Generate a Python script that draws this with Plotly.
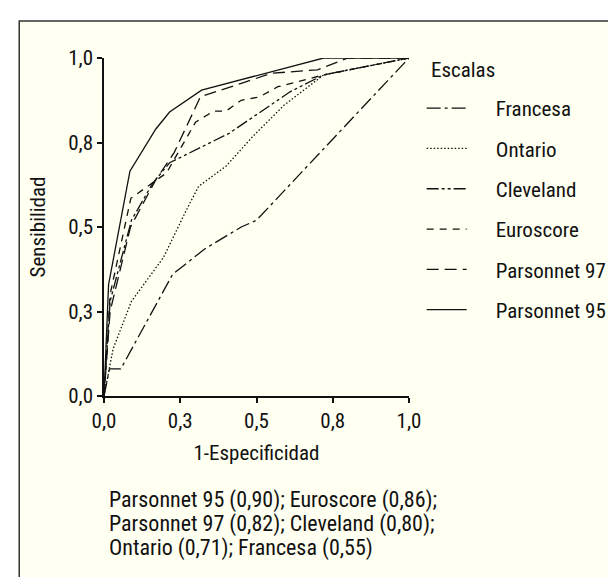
import plotly.graph_objects as go

# ---- data ----
series_names = ["Francesa", "Ontario", "Cleveland", "Euroscore", "Parsonnet 97", "Parsonnet 95"]

francesa_x = [0, 0.018, 0.055, 0.225, 0.33, 0.45, 0.50, 1.0]
francesa_y = [0, 0.08, 0.08, 0.36, 0.435, 0.50, 0.52, 1.0]

ontario_x = [0, 0.03, 0.09, 0.195, 0.27, 0.31, 0.40, 0.49, 0.59, 0.72, 1.0]
ontario_y = [0, 0.14, 0.28, 0.41, 0.55, 0.62, 0.68, 0.77, 0.86, 0.95, 1.0]

cleveland_x = [0, 0.02, 0.09, 0.16, 0.215, 0.26, 0.37, 0.41, 0.48, 0.61, 0.72, 1.0]
cleveland_y = [0, 0.28, 0.52, 0.63, 0.69, 0.71, 0.757, 0.777, 0.82, 0.90, 0.95, 1.0]

euroscore_x = [0, 0.02, 0.088, 0.205, 0.30, 0.36, 0.40, 0.45, 0.51, 0.57, 0.72, 1.0]
euroscore_y = [0, 0.30, 0.585, 0.66, 0.81, 0.843, 0.843, 0.875, 0.885, 0.915, 0.95, 1.0]

parsonnet97_x = [0, 0.02, 0.087, 0.17, 0.23, 0.30, 0.316, 0.45, 0.55, 0.70, 0.80, 1.0]
parsonnet97_y = [0, 0.25, 0.50, 0.64, 0.72, 0.855, 0.885, 0.925, 0.955, 0.965, 1.0, 1.0]

parsonnet95_x = [0, 0.015, 0.085, 0.17, 0.215, 0.32, 0.72, 1.0]
parsonnet95_y = [0, 0.33, 0.665, 0.79, 0.84, 0.905, 1.0, 1.0]

tick_vals = [0, 0.25, 0.5, 0.75, 1.0]
tick_text = ["0,0", "0,3", "0,5", "0,8", "1,0"]

legend_title = "Escalas"
auc_lines = [
    "Parsonnet 95 (0,90); Euroscore (0,86);",
    "Parsonnet 97 (0,82); Cleveland (0,80);",
    "Ontario (0,71); Francesa (0,55)",
]

# ---- styling ----
FONT = "Roboto Condensed, Liberation Sans Narrow, DejaVu Sans Condensed, Arial Narrow, sans-serif"
FS = 21
dashes = {
    "Francesa": "14px,4px,3px,4px",
    "Ontario": "1.5px,2px",
    "Cleveland": "12px,3px,3px,3px,3px,3px",
    "Euroscore": "7px,6px",
    "Parsonnet 97": "12px,6px",
    "Parsonnet 95": "solid",
}
data = {
    "Francesa": (francesa_x, francesa_y),
    "Ontario": (ontario_x, ontario_y),
    "Cleveland": (cleveland_x, cleveland_y),
    "Euroscore": (euroscore_x, euroscore_y),
    "Parsonnet 97": (parsonnet97_x, parsonnet97_y),
    "Parsonnet 95": (parsonnet95_x, parsonnet95_y),
}

W, H = 616, 577
L, R, T, B = 96, 409, 50, 388  # plot area in px


def px_x(p):
    return (p - L) / (R - L)


def px_y(p):
    return (B - p) / (B - T)


fig = go.Figure()
pad = "\u00a0" * 5
for i, name in enumerate(series_names):
    xs, ys = data[name]
    fig.add_trace(go.Scatter(
        x=xs, y=ys, mode="lines", name=pad + name, legendgroup=f"g{i}",
        line=dict(color="#111111", width=1.3, dash=dashes[name]),
        cliponaxis=False, hoverinfo="skip",
    ))

axis_common = dict(
    range=[0, 1], tickvals=tick_vals, ticktext=tick_text,
    showgrid=False, zeroline=False, showline=True, linecolor="#111111", linewidth=1.5,
    ticks="outside", ticklen=5, tickwidth=1.5, tickcolor="#111111",
    tickfont=dict(family=FONT, size=FS, color="#111111"), automargin=False,
    fixedrange=True,
)

fig.update_layout(
    width=W, height=H,
    margin=dict(l=L, r=W - R, t=T, b=H - B, pad=0),
    paper_bgcolor="white", plot_bgcolor="rgba(0,0,0,0)",
    font=dict(family=FONT, size=FS, color="#111111"),
    xaxis=dict(axis_common, title=dict(text="1-Especificidad", standoff=13,
                                       font=dict(family=FONT, size=FS))),
    yaxis=dict(axis_common, title=dict(text="Sensibilidad", standoff=17,
                                       font=dict(family=FONT, size=FS))),
    showlegend=True,
    legend=dict(
        x=px_x(422), y=px_y(80), xanchor="left", yanchor="top",
        bgcolor="rgba(0,0,0,0)", traceorder="grouped", tracegroupgap=10,
        itemwidth=40,
        font=dict(family=FONT, size=FS, color="#111111"),
    ),
    shapes=[dict(
        type="rect", xref="paper", yref="paper", layer="below",
        x0=px_x(9), x1=px_x(640), y0=px_y(600), y1=px_y(13),
        fillcolor="#FFFFF2", line=dict(color="#333333", width=1.5),
    )],
)

fig.add_annotation(
    x=px_x(430), y=px_y(62), xref="paper", yref="paper",
    xanchor="left", yanchor="middle", text=legend_title, showarrow=False,
    font=dict(family=FONT, size=FS, color="#111111"),
)

line_px = [492, 516, 540]
for txt, p in zip(auc_lines, line_px):
    fig.add_annotation(
        x=px_x(99), y=px_y(p), xref="paper", yref="paper",
        xanchor="left", yanchor="middle", text=txt, showarrow=False,
        font=dict(family=FONT, size=22, color="#111111"),
    )

fig.write_html("out.html")
